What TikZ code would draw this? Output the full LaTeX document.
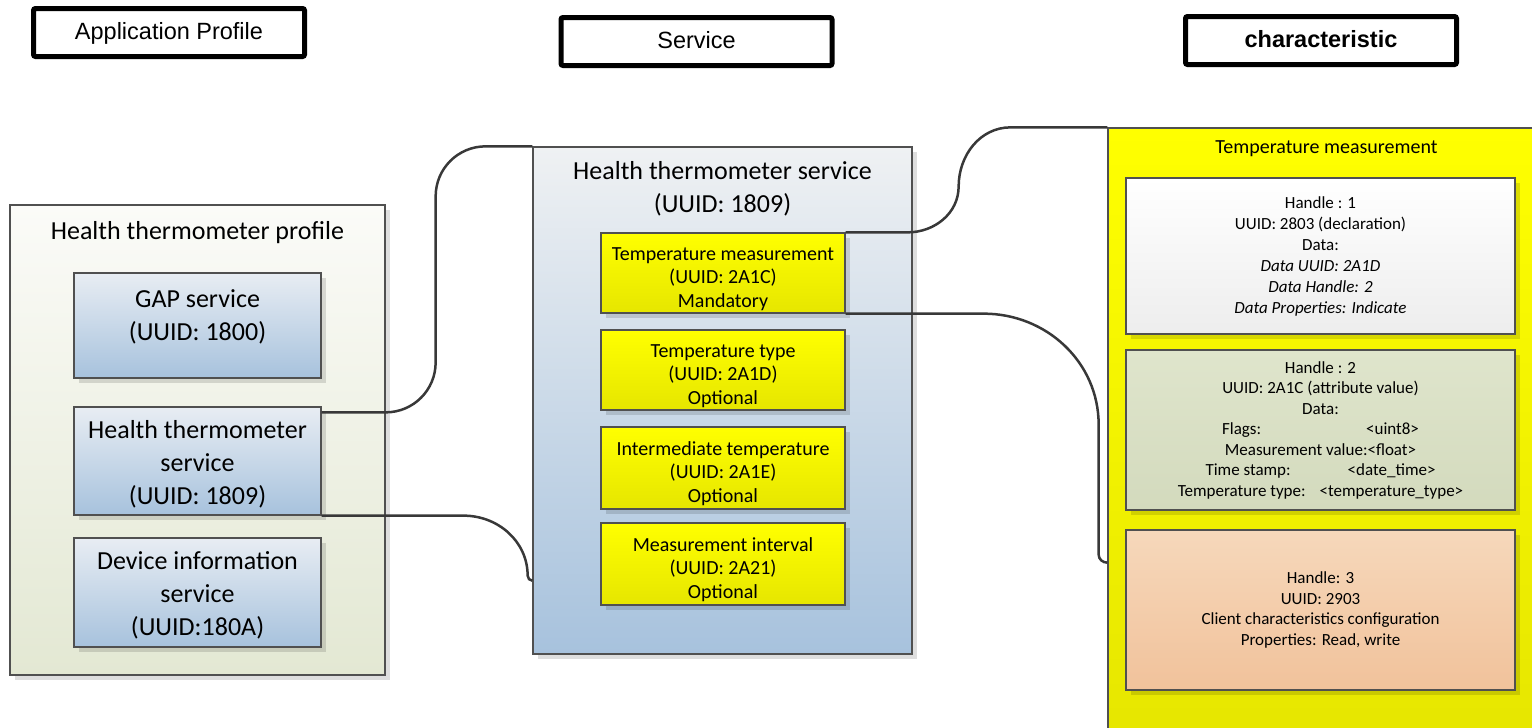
\documentclass[tikz,border=0pt]{standalone}
\usepackage{fontspec}
\setmainfont{Carlito}
\newfontfamily\arialfont{Liberation Sans}
\usepackage{tikz}
\usetikzlibrary{shadows}

\definecolor{edge}{HTML}{505050}
\definecolor{wire}{HTML}{383838}
\definecolor{proftop}{HTML}{FBFBF8}
\definecolor{profbot}{HTML}{E3E8D3}
\definecolor{bluetop}{HTML}{E8EDF3}
\definecolor{bluebot}{HTML}{A7C2DD}
\definecolor{svctop}{HTML}{EFF1F3}
\definecolor{yeltop}{HTML}{FFFF00}
\definecolor{yelbot}{HTML}{E6E600}
\definecolor{greentop}{HTML}{DFE5CC}
\definecolor{greenbot}{HTML}{D3DABD}
\definecolor{orangetop}{HTML}{F6D8BB}
\definecolor{orangebot}{HTML}{F1C29B}

% raise the top of a first line / lower the bottom of a last line
\newcommand\topgap[1]{\rule{0pt}{#1}}
\newcommand\botgap[1]{\rule[-#1]{0pt}{#1}}

\tikzset{
  headbox/.style={draw, line width=5pt, rounded corners=2pt, minimum width=271pt,
    minimum height=48pt, text height=17pt, text depth=4pt,
    font=\arialfont\fontsize{23.5}{28}\selectfont},
  box/.style={draw=edge, line width=1.3pt, align=center, inner sep=0pt,
    drop shadow={shadow xshift=5pt, shadow yshift=-5pt, fill=black, opacity=0.13}},
  bigtxt/.style={font=\fontsize{26}{33}\selectfont},
  midtxt/.style={font=\fontsize{20}{23.5}\selectfont},
  smalltxt/.style={font=\fontsize{17}{20.5}\selectfont},
  ttl/.style={anchor=center, align=center, inner sep=0pt},
  link/.style={draw=wire, line width=2.5pt},
}

\begin{document}
\begin{tikzpicture}[x=1pt,y=-1pt]
  \useasboundingbox (0,0) rectangle (1532,728);

  % column headers
  \node[headbox] (apphead) at (169,32.5) {Application Profile};
  \node[headbox] (svchead) at (696.5,41.5) {Service};
  \node[headbox, font=\arialfont\bfseries\fontsize{23.5}{28}\selectfont] (chrhead) at (1321,40.5) {characteristic};

  % profile
  \node[box, top color=proftop, bottom color=profbot, minimum width=375pt, minimum height=470pt,
    label={[ttl, bigtxt, yshift=-28pt]north:Health thermometer profile}] (prof) at (197.5,440) {};
  \node[box, bigtxt, top color=bluetop, bottom color=bluebot, minimum width=247pt, minimum height=105pt]
    (gap) at (197.5,325.5) {GAP service\\(UUID: 1800)\botgap{20pt}};
  \node[box, bigtxt, top color=bluetop, bottom color=bluebot, minimum width=247pt, minimum height=108pt]
    (htsvc) at (197.5,461) {\topgap{24pt}Health thermometer\\service\\(UUID: 1809)};
  \node[box, bigtxt, top color=bluetop, bottom color=bluebot, minimum width=247pt, minimum height=109pt]
    (devinfo) at (197.5,592.5) {\topgap{24pt}Device information\\service\\(UUID:180A)};

  % service
  \node[box, top color=svctop, bottom color=bluebot, minimum width=379pt, minimum height=507pt,
    label={[ttl, bigtxt, yshift=-42pt]north:Health thermometer service\\(UUID: 1809)}] (svc) at (722.5,400.5) {};
  \node[box, midtxt, top color=yeltop, bottom color=yelbot, minimum width=244pt, minimum height=80pt]
    (tmeas) at (723,273) {\topgap{25pt}Temperature measurement\\(UUID: 2A1C)\\Mandatory};
  \node[box, midtxt, top color=yeltop, bottom color=yelbot, minimum width=244pt, minimum height=80pt]
    (ttype) at (723,370) {\topgap{25pt}Temperature type\\(UUID: 2A1D)\\Optional};
  \node[box, midtxt, top color=yeltop, bottom color=yelbot, minimum width=244pt, minimum height=82pt]
    (itemp) at (723,468) {\topgap{25pt}Intermediate temperature\\(UUID: 2A1E)\\Optional};
  \node[box, midtxt, top color=yeltop, bottom color=yelbot, minimum width=244pt, minimum height=82pt]
    (mint) at (723,564) {\topgap{25pt}Measurement interval\\(UUID: 2A21)\\Optional};

  % characteristic
  \node[box, top color=yeltop, bottom color=yelbot, minimum width=437pt, minimum height=617pt,
    label={[ttl, midtxt, yshift=-21pt]north:Temperature measurement}] (chr) at (1326.5,436.5) {};
  \node[box, smalltxt, font=\fontsize{17}{21}\selectfont, top color=white, bottom color=black!7,
    minimum width=389pt, minimum height=156pt] (decl) at (1320.5,256)
    {Handle : 1\\UUID: 2803 (declaration)\\Data:\\\textit{Data UUID: 2A1D}\\\textit{Data Handle: 2}\\\textit{Data Properties: Indicate}};
  \node[box, smalltxt, top color=greentop, bottom color=greenbot, minimum width=389pt, minimum height=160pt]
    (val) at (1320.5,430)
    {Handle : 2\\UUID: 2A1C (attribute value)\\Data:\\Flags:\hspace{105pt}<uint8>\\Measurement value:<float>\\
     Time stamp:\hspace{57pt}<date\_time>\\Temperature type:\hspace{14pt}<temperature\_type>};
  \node[box, smalltxt, top color=orangetop, bottom color=orangebot, minimum width=389pt, minimum height=160pt]
    (ccc) at (1320.5,610) {Handle: 3\\UUID: 2903\\Client characteristics configuration\\Properties: Read, write};

  % connectors
  \draw[link] ([yshift=-6pt]htsvc.north east) -- ++(64,0) to[out=0,in=-90] ++(50,-50)
    -- ++(0,-166) to[out=90,in=180] ++(50,-50) -- (svc.north west);
  \draw[link] (htsvc.south east) -- ++(142,0) to[out=0,in=90] ++(64,60)
    to[out=-90,in=180] ([yshift=74pt]svc.south west);
  \draw[link] (tmeas.north east) -- ++(62,0) to[out=0,in=-90] ++(51,-46)
    to[out=90,in=180] ++(52,-59) -- (chr.north west);
  \draw[link] (tmeas.south east) -- ++(138,0) to[out=0,in=90] ++(115,111)
    -- ++(0,130) to[out=-90,in=180] ([yshift=183pt]chr.south west);
\end{tikzpicture}
\end{document}
